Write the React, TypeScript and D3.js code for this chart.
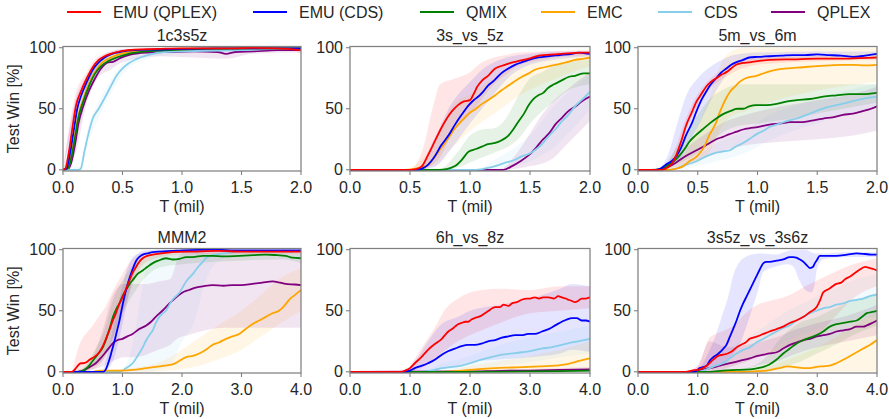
import React from "react";
import * as d3 from "d3";

type P = [number, number];
type B = [number, number, number];

const SERIES = ["EMU (QPLEX)", "EMU (CDS)", "QMIX", "EMC", "CDS", "QPLEX"];
const COLORS = ["#ff0000", "#0000ff", "#008000", "#ffa500", "#87ceeb", "#800080"];

const TITLES = ["1c3s5z", "3s_vs_5z", "5m_vs_6m", "MMM2", "6h_vs_8z", "3s5z_vs_3s6z"];
const X_MAX = [2, 2, 2, 4, 4, 4];
const X_TICKS_SHORT = [0, 0.5, 1.0, 1.5, 2.0];
const X_TICKS_LONG = [0, 1, 2, 3, 4];
const Y_TICKS = [0, 50, 100];

// ---------- 1c3s5z ----------
const a_red: P[] = [[0,0],[0.02,1],[0.05,15],[0.08,35],[0.11,53],[0.15,64],[0.2,75],[0.25,84],[0.3,90],[0.35,93],[0.4,95],[0.5,97.5],[0.6,98.5],[0.8,99],[1.0,99.5],[1.2,99.5],[1.4,99.5],[1.6,99.8],[1.8,99.5],[2.0,98]];
const a_blue: P[] = [[0,0],[0.03,1],[0.06,14],[0.09,32],[0.12,50],[0.15,60],[0.2,72],[0.25,82],[0.3,88],[0.35,92],[0.4,94.5],[0.5,97],[0.6,98],[0.8,98.5],[1.0,99],[1.3,99.5],[1.6,99.5],[2.0,99.5]];
const a_green: P[] = [[0,0],[0.04,1],[0.07,10],[0.1,26],[0.13,43],[0.17,56],[0.22,69],[0.27,79],[0.32,85],[0.38,89],[0.45,92],[0.55,95],[0.7,97],[0.9,98],[1.2,99],[1.6,99.5],[2.0,99.5]];
const a_orange: P[] = [[0,0],[0.04,1],[0.07,12],[0.1,28],[0.13,45],[0.17,58],[0.22,71],[0.27,80],[0.32,87],[0.38,91],[0.45,94],[0.55,96.5],[0.7,98],[0.9,99],[1.2,99.5],[1.6,99.5],[2.0,99.5]];
const a_cds: P[] = [[0,0],[0.13,0],[0.15,1],[0.18,15],[0.21,28],[0.25,42],[0.3,50],[0.34,57],[0.4,68],[0.45,77],[0.5,83],[0.55,87],[0.65,92],[0.75,95],[0.85,96.5],[1.0,97],[1.2,97.5],[1.5,98],[1.8,99],[2.0,99]];
const a_purple: P[] = [[0,0],[0.04,0.5],[0.07,6],[0.1,20],[0.13,38],[0.17,52],[0.22,65],[0.27,75],[0.32,83],[0.38,88],[0.42,88.5],[0.48,91.5],[0.55,94],[0.7,96],[0.9,96.5],[1.1,97],[1.3,96.5],[1.37,95],[1.45,96.5],[1.6,97],[1.8,98],[2.0,98]];
const a_redB: B[] = [[0,0,0],[0.1,45,60],[0.2,70,80],[0.3,87,93],[0.5,96,99],[1,99,100],[1.9,98,100],[2,95,100]];
const a_blueB: B[] = [[0,0,0],[0.1,38,55],[0.2,67,77],[0.3,85,91],[0.5,96,98.5],[1,98.5,99.8],[2,99,100]];
const a_greenB: B[] = [[0,0,0],[0.1,20,32],[0.2,60,70],[0.3,80,88],[0.5,92,96],[1,97.5,99.5],[2,99,100]];
const a_orangeB: B[] = [[0,0,0],[0.1,22,35],[0.2,62,72],[0.3,83,88],[0.5,94,97],[1,98.5,99.8],[2,99,100]];
const a_cdsB: B[] = [[0,0,0],[0.15,0,3],[0.2,18,30],[0.3,43,56],[0.4,62,73],[0.5,78,87],[0.65,89,94],[1,95,98.5],[2,98,100]];
const a_purpleB: B[] = [[0,0,0],[0.1,12,28],[0.2,55,70],[0.3,76,86],[0.4,82,92],[0.5,88,95],[0.8,93,98],[1.37,91,98],[1.6,95,99],[2,96,100]];

// ---------- 3s_vs_5z ----------
const b_red: P[] = [[0,0],[0.5,0],[0.55,0.5],[0.6,3],[0.65,12],[0.7,22],[0.76,34],[0.8,41],[0.85,48],[0.9,53],[0.95,56],[1.0,57],[1.03,62],[1.06,68],[1.1,73],[1.15,77],[1.21,83],[1.26,85],[1.32,87],[1.4,89],[1.49,91],[1.55,93],[1.62,94],[1.7,94.5],[1.76,95],[1.85,95.5],[1.93,96],[2.0,96]];
const b_blue: P[] = [[0,0],[0.55,0],[0.6,1],[0.65,4],[0.7,10],[0.76,20],[0.82,28],[0.875,37],[0.93,45],[0.99,53],[1.03,57],[1.07,60],[1.11,64],[1.15,69],[1.2,73],[1.26,79],[1.32,83],[1.375,86],[1.43,88],[1.49,90],[1.57,92],[1.65,93],[1.75,94],[1.85,95],[1.9,96],[1.95,95.5],[2.0,95]];
const b_green: P[] = [[0,0],[0.75,0],[0.8,0.5],[0.875,3],[0.93,8],[0.99,15],[1.05,17],[1.1,19],[1.15,21],[1.21,22],[1.26,24],[1.32,28],[1.36,33],[1.4,39],[1.45,46],[1.49,53],[1.53,58],[1.57,61],[1.61,63],[1.65,67],[1.7,70],[1.76,73],[1.82,76],[1.875,77],[1.95,79],[2.0,79]];
const b_orange: P[] = [[0,0],[0.45,0],[0.55,1],[0.6,2],[0.65,4],[0.7,10],[0.76,18],[0.82,26],[0.875,34],[0.93,40],[0.99,46],[1.05,50],[1.1,54],[1.15,57],[1.21,61],[1.26,65],[1.32,69],[1.38,73],[1.43,76],[1.49,79],[1.54,82],[1.62,84],[1.71,86],[1.8,88],[1.875,90],[1.95,91],[2.0,92]];
const b_cds: P[] = [[0,0],[1.05,0],[1.15,1.5],[1.21,3],[1.3,6],[1.37,8],[1.43,11],[1.49,13],[1.54,16],[1.6,21],[1.65,27],[1.71,33],[1.76,39],[1.82,45],[1.875,52],[1.93,57],[2.0,64]];
const b_purple: P[] = [[0,0],[1.28,0],[1.35,3],[1.42,7],[1.49,12],[1.55,18],[1.6,24],[1.66,30],[1.71,37],[1.77,43],[1.82,48],[1.88,52],[1.93,56],[2.0,60]];
const b_redB: B[] = [[0,0,0],[0.5,0,0.5],[0.6,0,15],[0.7,5,55],[0.75,10,70],[0.85,30,74],[1.0,45,80],[1.1,58,88],[1.2,70,92],[1.3,78,94],[1.4,85,96],[1.6,90,97],[2.0,94,98]];
const b_blueB: B[] = [[0,0,0],[0.55,0,0],[0.7,2,25],[0.85,18,55],[1.0,38,72],[1.1,50,82],[1.2,62,88],[1.35,78,93],[1.5,86,95],[1.7,90,97],[2.0,93,97]];
const b_greenB: B[] = [[0,0,0],[0.75,0,1],[0.9,2,15],[1.0,6,28],[1.1,10,33],[1.2,14,34],[1.3,18,42],[1.4,25,60],[1.5,38,75],[1.6,48,80],[1.7,56,85],[1.8,64,88],[2.0,70,90]];
const b_orangeB: B[] = [[0,0,0],[0.45,0,0.5],[0.7,3,22],[0.85,18,52],[1.0,32,62],[1.2,46,75],[1.4,60,86],[1.6,70,92],[1.8,78,95],[2.0,85,97]];
const b_cdsB: B[] = [[0,0,0],[1.05,0,0.5],[1.2,0,8],[1.4,4,20],[1.5,7,28],[1.6,12,40],[1.7,18,52],[1.8,28,62],[1.9,38,70],[2.0,50,78]];
const b_purpleB: B[] = [[0,0,0],[1.25,0,0.5],[1.4,1,15],[1.5,3,30],[1.6,5,45],[1.7,10,57],[1.8,20,65],[1.9,30,73],[2.0,40,80]];

// ---------- 5m_vs_6m ----------
const c_red: P[] = [[0,0],[0.2,0],[0.25,2],[0.29,6],[0.32,12],[0.36,23],[0.405,37],[0.45,47],[0.49,56],[0.53,62],[0.57,68],[0.61,72],[0.655,75],[0.7,78],[0.74,80],[0.78,83],[0.82,86],[0.88,87.5],[0.93,88],[1.0,89],[1.1,90],[1.3,90.5],[1.5,91],[1.7,91],[1.85,91.5],[2.0,92]];
const c_blue: P[] = [[0,0],[0.15,0],[0.19,1],[0.23,4],[0.28,7],[0.32,11],[0.36,18],[0.405,29],[0.45,38],[0.49,48],[0.53,57],[0.57,64],[0.61,70],[0.655,75],[0.7,80],[0.74,83],[0.78,86],[0.82,88],[0.88,90],[0.93,92],[1.0,92.5],[1.1,93],[1.2,93.5],[1.3,94],[1.4,94],[1.5,94.5],[1.6,94],[1.7,93.5],[1.8,92.5],[1.9,93.5],[2.0,95]];
const c_green: P[] = [[0,0],[0.15,0],[0.2,1],[0.24,3],[0.3,7],[0.35,12],[0.39,17],[0.43,23],[0.48,28],[0.54,33],[0.6,38],[0.655,42],[0.7,45],[0.77,48],[0.83,50],[0.88,50],[0.93,52],[0.99,53],[1.08,53],[1.16,54],[1.25,56],[1.33,57],[1.44,58],[1.55,60],[1.66,61],[1.77,62],[1.88,62],[2.0,63]];
const c_orange: P[] = [[0,0],[0.25,0],[0.32,1],[0.38,3],[0.43,7],[0.48,10],[0.52,14],[0.56,20],[0.6,29],[0.63,34],[0.655,39],[0.68,46],[0.71,53],[0.74,59],[0.77,64],[0.81,68],[0.85,72],[0.9,75],[0.99,77],[1.08,80],[1.16,82],[1.25,83],[1.38,84],[1.5,85],[1.6,85.5],[1.715,86],[1.8,86],[1.9,85.5],[2.0,86]];
const c_cds: P[] = [[0,0],[0.25,0],[0.32,1],[0.4,4],[0.49,7],[0.57,11],[0.655,14],[0.71,15],[0.77,16],[0.82,19],[0.88,22],[0.93,25],[0.99,29],[1.05,32],[1.1,35],[1.16,37],[1.25,40],[1.33,42],[1.41,45],[1.49,48],[1.57,51],[1.66,53],[1.75,55],[1.83,57],[1.92,59],[2.0,60]];
const c_purple: P[] = [[0,0],[0.18,0],[0.22,1],[0.265,3],[0.32,6],[0.38,10],[0.43,13],[0.49,16],[0.55,19],[0.6,22],[0.655,25],[0.71,27],[0.76,29],[0.82,31],[0.88,33],[0.93,34],[1.0,35],[1.1,37],[1.2,38],[1.27,39],[1.35,39],[1.44,40],[1.5,41],[1.55,42],[1.63,43],[1.715,45],[1.8,46],[1.88,48],[1.95,50],[2.0,52]];
const c_redB: B[] = [[0,0,0],[0.2,0,1],[0.3,7,15],[0.4,32,42],[0.5,52,62],[0.6,66,74],[0.7,74,82],[0.8,80,88],[1.0,86,92],[1.5,89,93],[2.0,90,94]];
const c_blueB: B[] = [[0,0,0],[0.15,0,0.5],[0.25,2,12],[0.3,4,28],[0.35,8,45],[0.4,18,60],[0.5,35,75],[0.6,55,84],[0.7,72,90],[0.8,84,94],[1.0,90,96],[1.5,92,97],[2.0,93,97]];
const c_greenB: B[] = [[0,0,0],[0.2,0,2],[0.3,3,15],[0.4,8,30],[0.5,14,45],[0.6,22,58],[0.7,30,65],[0.85,36,70],[1.0,38,70],[1.3,42,70],[1.6,48,70],[2.0,55,70]];
const c_orangeB: B[] = [[0,0,0],[0.3,0,3],[0.4,3,15],[0.5,6,35],[0.6,15,60],[0.7,35,88],[0.8,45,98],[0.9,48,100],[1.0,52,100],[1.5,65,100],[2.0,72,100]];
const c_cdsB: B[] = [[0,0,0],[0.3,0,3],[0.5,3,12],[0.7,8,24],[0.9,14,32],[1.1,24,45],[1.3,32,52],[1.5,38,58],[1.7,45,64],[2.0,50,70]];
const c_purpleB: B[] = [[0,0,0],[0.2,0,2],[0.3,2,10],[0.4,5,18],[0.5,8,25],[0.7,15,38],[0.9,20,45],[1.2,23,52],[1.5,25,57],[1.8,28,62],[2.0,32,68]];

// ---------- MMM2 ----------
const d_red: P[] = [[0,0],[0.15,0],[0.2,2],[0.25,5],[0.3,7],[0.34,7],[0.4,8],[0.45,10],[0.52,12],[0.61,16],[0.68,22],[0.73,28],[0.78,34],[0.83,41],[0.89,48],[0.94,55],[1.0,61],[1.06,68],[1.12,75],[1.17,81],[1.23,86],[1.28,90],[1.34,93],[1.42,95],[1.51,96],[1.65,97],[1.84,98],[2.2,98.5],[2.6,99],[3.0,98.5],[3.5,98.5],[4.0,98.5]];
const d_blue: P[] = [[0,0],[0.68,0],[0.72,2],[0.78,10],[0.82,17],[0.87,26],[0.91,34],[0.95,42],[0.99,52],[1.03,61],[1.07,69],[1.12,77],[1.17,84],[1.23,91],[1.28,94],[1.34,96],[1.42,97],[1.51,98],[1.65,98.5],[1.84,99],[2.0,99.5],[2.5,100],[3.0,99.5],[3.5,99.5],[4.0,99.5]];
const d_green: P[] = [[0,0],[0.25,0],[0.34,1],[0.42,4],[0.5,9],[0.58,14],[0.67,20],[0.72,26],[0.78,35],[0.84,45],[0.9,52],[0.95,56],[1.0,62],[1.06,67],[1.12,72],[1.17,75],[1.25,80],[1.34,83],[1.42,86],[1.51,89],[1.6,91],[1.73,93],[1.85,92],[1.96,92.5],[2.07,94],[2.18,94],[2.35,95],[2.51,95],[2.7,94.5],[2.96,95],[3.2,95.5],[3.41,96],[3.6,95.5],[3.74,95],[3.85,93.5],[4.0,93]];
const d_orange: P[] = [[0,0],[0.5,0],[0.61,1],[1.0,1],[1.17,1.5],[1.4,3],[1.56,4],[1.7,5],[1.84,6],[1.96,9],[2.07,12],[2.18,13],[2.29,15],[2.4,18],[2.51,22],[2.62,24],[2.74,27],[2.85,29],[2.96,31],[3.07,35],[3.18,39],[3.3,42],[3.41,45],[3.52,48],[3.63,50],[3.72,54],[3.8,59],[3.9,63],[4.0,67]];
const d_cds: P[] = [[0,0],[0.95,0],[1.06,3],[1.17,7],[1.28,15],[1.34,20],[1.4,26],[1.45,30],[1.51,34],[1.56,40],[1.62,45],[1.68,48],[1.73,50],[1.79,55],[1.84,59],[1.9,62],[1.96,65],[2.02,70],[2.07,74],[2.12,77],[2.18,80],[2.24,84],[2.29,87],[2.35,90],[2.4,93],[2.48,95],[2.57,96],[2.7,97],[2.85,98],[3.0,99],[3.5,99],[4.0,99]];
const d_purple: P[] = [[0,0],[0.25,0],[0.34,1],[0.45,4],[0.55,7],[0.61,10],[0.7,15],[0.78,20],[0.85,24],[0.92,26],[1.0,27],[1.08,29],[1.17,31],[1.28,35],[1.4,38],[1.48,41],[1.56,45],[1.67,50],[1.79,56],[1.9,61],[2.01,65],[2.12,67],[2.23,69],[2.35,70],[2.51,71],[2.7,70.5],[2.85,71],[3.0,71],[3.18,72],[3.35,73],[3.52,74],[3.65,73],[3.74,72],[3.9,71.5],[4.0,71]];
const d_redB: B[] = [[0,0,0],[0.15,0,1],[0.2,0,10],[0.3,0,25],[0.4,0,32],[0.5,2,38],[0.6,5,45],[0.7,12,52],[0.8,22,62],[0.9,35,72],[1.0,48,80],[1.1,62,88],[1.2,75,94],[1.3,85,97],[1.5,92,99],[2.0,96,100],[4.0,97,100]];
const d_blueB: B[] = [[0,0,0],[0.65,0,0.5],[0.75,2,15],[0.85,10,38],[0.95,28,60],[1.05,50,80],[1.15,72,92],[1.25,86,97],[1.4,94,99.5],[1.6,97,100],[4.0,98.5,100]];
const d_greenB: B[] = [[0,0,0],[0.3,0,2],[0.5,4,15],[0.7,12,35],[0.85,30,60],[1.0,48,75],[1.2,65,88],[1.4,78,94],[1.6,85,96],[2.0,88,97],[3.0,91,98],[3.7,92,98.5],[4.0,89,97]];
const d_orangeB: B[] = [[0,0,0],[0.6,0,1],[1.5,0,6],[1.8,1,12],[2.0,2,18],[2.3,5,28],[2.6,10,38],[3.0,18,50],[3.3,28,62],[3.6,38,75],[4.0,50,85]];
const d_cdsB: B[] = [[0,0,0],[0.95,0,0.5],[1.1,0,10],[1.2,0,30],[1.3,0,60],[1.4,0,85],[1.5,0,97],[1.6,2,99],[1.8,5,100],[2.0,25,100],[2.2,40,100],[2.4,75,100],[2.6,90,100],[3.0,97,100],[4.0,98,100]];
const d_purpleB: B[] = [[0,0,0],[0.3,0,2],[0.5,2,12],[0.7,5,40],[0.8,8,58],[0.9,10,68],[1.0,12,72],[1.2,12,72],[1.4,14,72],[1.6,18,74],[1.8,22,76],[1.95,28,95],[2.1,30,99],[2.4,34,100],[2.7,36,100],[3.0,36,100],[4.0,36,100]];

// ---------- 6h_vs_8z ----------
const e_red: P[] = [[0,0],[0.85,0],[0.92,1],[1.0,3],[1.08,7],[1.19,12],[1.3,18],[1.42,23],[1.53,27],[1.6,31],[1.64,33],[1.7,35],[1.75,37],[1.8,39],[1.86,40],[1.92,41],[1.97,41],[2.03,43],[2.08,44],[2.14,45],[2.19,46],[2.25,48],[2.31,50],[2.37,52],[2.42,53],[2.5,53],[2.56,55],[2.64,54],[2.7,56],[2.78,57],[2.86,59],[2.95,60],[3.0,60],[3.08,61],[3.15,60],[3.22,61],[3.31,61],[3.4,60],[3.47,62],[3.53,61],[3.6,60],[3.64,59],[3.7,58],[3.75,57],[3.8,58],[3.86,60],[3.93,60],[4.0,61]];
const e_blue: P[] = [[0,0],[0.9,0],[1.0,1],[1.08,3],[1.2,5],[1.3,7],[1.42,10],[1.53,14],[1.64,17],[1.75,19],[1.86,21],[1.97,22],[2.08,22],[2.19,23],[2.3,25],[2.42,26],[2.53,28],[2.64,29],[2.75,30],[2.86,30],[2.97,31],[3.08,31],[3.2,33],[3.31,35],[3.42,38],[3.53,41],[3.62,43],[3.7,44],[3.78,44],[3.86,42],[3.93,42],[4.0,41]];
const e_green: P[] = [[0,0],[2.0,0],[3.0,0.3],[3.5,0.6],[4.0,1]];
const e_orange: P[] = [[0,0],[1.5,0],[1.86,1],[2.1,2],[2.42,3],[2.7,3.5],[2.97,4],[3.2,4.5],[3.42,5],[3.6,6],[3.75,8],[3.9,10],[4.0,11]];
const e_cds: P[] = [[0,0],[1.2,0],[1.35,1],[1.53,3],[1.7,4],[1.86,5],[2.0,7],[2.19,10],[2.35,12],[2.53,14],[2.7,15],[2.86,16],[3.0,17],[3.19,19],[3.35,20],[3.53,22],[3.7,24],[3.8,25],[3.9,26],[4.0,27]];
const e_purple: P[] = [[0,0],[2.0,0.3],[2.5,0.8],[3.0,1],[3.5,1.5],[4.0,2]];
const e_redB: B[] = [[0,0,0],[0.9,0,0.5],[1.0,0,5],[1.2,3,20],[1.4,10,35],[1.6,18,52],[1.8,25,60],[2.0,30,65],[2.2,34,67],[2.5,40,68],[3.0,48,67],[3.5,50,70],[4.0,52,70]];
const e_blueB: B[] = [[0,0,0],[0.9,0,0.5],[1.1,0,10],[1.3,0,25],[1.5,2,38],[1.8,5,45],[2.0,8,50],[2.5,10,55],[3.0,12,60],[3.5,15,68],[3.7,18,72],[4.0,16,70]];
const e_greenB: B[] = [[0,0,0],[3,0,1],[4,0,2]];
const e_orangeB: B[] = [[0,0,0],[1.5,0,0.5],[2.0,0,5],[2.5,0,9],[3.0,0,13],[3.5,0,18],[4.0,0,25]];
const e_cdsB: B[] = [[0,0,0],[1.2,0,0.5],[1.5,0,6],[2.0,2,13],[2.5,5,22],[3.0,8,28],[3.5,12,33],[4.0,15,38]];
const e_purpleB: B[] = [[0,0,0],[2,0,1],[4,0,4]];

// ---------- 3s5z_vs_3s6z ----------
const f_red: P[] = [[0,0],[0.8,0],[0.9,1],[1.03,2],[1.15,5],[1.26,10],[1.34,13],[1.42,14],[1.5,15],[1.58,17],[1.65,20],[1.72,22],[1.8,24],[1.87,27],[1.93,28],[2.0,29],[2.1,31],[2.2,33],[2.32,35],[2.43,37],[2.54,40],[2.65,42],[2.77,45],[2.88,49],[2.99,53],[3.05,59],[3.1,65],[3.2,68],[3.32,72],[3.4,73],[3.47,76],[3.55,78],[3.63,81],[3.72,84],[3.8,86],[3.88,85],[3.95,84],[4.0,83]];
const f_blue: P[] = [[0,0],[0.95,0],[1.03,3],[1.1,4],[1.15,5],[1.2,9],[1.26,12],[1.32,14],[1.37,16],[1.43,19],[1.48,22],[1.54,29],[1.6,36],[1.65,42],[1.7,49],[1.76,56],[1.82,62],[1.87,67],[1.93,73],[1.98,78],[2.04,84],[2.1,89],[2.15,90],[2.2,90],[2.32,91],[2.43,92],[2.54,94],[2.6,94],[2.65,93.5],[2.71,92],[2.77,90],[2.83,87],[2.88,85],[2.93,86],[2.96,89],[3.0,92],[3.04,95],[3.15,95],[3.32,95],[3.5,96],[3.66,97],[3.8,96.5],[3.9,96],[4.0,96]];
const f_green: P[] = [[0,0],[1.2,0],[1.42,1],[1.65,1.5],[1.87,2],[2.0,3],[2.1,4],[2.2,6],[2.32,10],[2.43,15],[2.54,19],[2.65,23],[2.77,26],[2.88,28],[2.99,30],[3.1,33],[3.21,37],[3.32,39],[3.44,40],[3.55,41],[3.66,42],[3.75,45],[3.83,48],[3.92,49],[4.0,50]];
const f_orange: P[] = [[0,0],[1.8,0],[2.0,0.5],[2.15,1],[2.26,2],[2.37,3],[2.5,4.5],[2.6,4],[2.77,3],[2.88,3],[2.99,4],[3.1,4.5],[3.21,5],[3.32,7],[3.44,10],[3.55,13],[3.66,16],[3.77,19],[3.88,22],[4.0,26]];
const f_cds: P[] = [[0,0],[1.0,0],[1.2,3],[1.3,5],[1.42,7],[1.54,11],[1.65,15],[1.76,18],[1.87,20],[1.98,24],[2.1,27],[2.2,30],[2.32,33],[2.43,36],[2.54,38],[2.65,42],[2.77,45],[2.88,48],[2.99,50],[3.1,52],[3.21,53],[3.32,55],[3.44,56],[3.55,58],[3.66,59],[3.77,60],[3.88,62],[4.0,63]];
const f_purple: P[] = [[0,0],[0.8,0],[1.0,1],[1.2,3],[1.37,5],[1.54,7],[1.7,9],[1.87,11],[2.0,13],[2.1,14],[2.2,15],[2.32,16],[2.43,19],[2.54,22],[2.65,24],[2.77,26],[2.88,27],[2.99,29],[3.1,30],[3.21,31],[3.32,33],[3.44,34],[3.55,35],[3.66,37],[3.77,37],[3.83,38],[3.92,40],[4.0,42]];
const f_redB: B[] = [[0,0,0],[0.8,0,0.5],[1.0,0,5],[1.2,0,28],[1.4,2,33],[1.6,5,38],[1.8,8,48],[2.0,12,55],[2.2,15,58],[2.5,20,62],[2.8,25,70],[3.0,30,75],[3.3,45,82],[3.6,60,88],[4.0,70,93]];
const f_blueB: B[] = [[0,0,0],[0.95,0,0.5],[1.1,1,8],[1.2,2,18],[1.3,4,30],[1.4,6,45],[1.5,10,60],[1.6,15,80],[1.7,22,90],[1.8,35,94],[1.9,50,96],[2.0,65,97],[2.1,82,97],[2.3,86,96],[2.5,88,99],[2.6,86,100],[2.7,75,100],[2.8,67,100],[2.9,65,98],[2.95,70,97],[3.0,85,97],[3.1,92,97],[3.5,94,98],[4.0,94,98]];
const f_greenB: B[] = [[0,0,0],[1.2,0,0.5],[1.8,0,3],[2.1,0,10],[2.4,3,28],[2.7,8,40],[3.0,15,45],[3.3,22,52],[3.6,30,58],[4.0,38,65]];
const f_orangeB: B[] = [[0,0,0],[1.8,0,0.5],[2.2,0,5],[2.6,0,12],[3.0,0,20],[3.3,0,28],[3.6,0,38],[4.0,0,50]];
const f_cdsB: B[] = [[0,0,0],[1.0,0,0.5],[1.3,0,12],[1.6,5,22],[1.9,10,30],[2.2,18,40],[2.5,25,50],[2.8,32,57],[3.0,35,62],[3.3,40,68],[3.6,43,75],[4.0,45,80]];
const f_purpleB: B[] = [[0,0,0],[0.8,0,0.5],[1.0,0,5],[1.2,0,25],[1.5,0,20],[1.8,2,22],[2.0,5,24],[2.3,8,28],[2.6,14,34],[3.0,20,40],[3.5,25,46],[4.0,30,55]];

// order per panel: EMU (QPLEX), EMU (CDS), QMIX, EMC, CDS, QPLEX
const LINES: P[][][] = [
  [a_red, a_blue, a_green, a_orange, a_cds, a_purple],
  [b_red, b_blue, b_green, b_orange, b_cds, b_purple],
  [c_red, c_blue, c_green, c_orange, c_cds, c_purple],
  [d_red, d_blue, d_green, d_orange, d_cds, d_purple],
  [e_red, e_blue, e_green, e_orange, e_cds, e_purple],
  [f_red, f_blue, f_green, f_orange, f_cds, f_purple],
];
const BANDS: B[][][] = [
  [a_redB, a_blueB, a_greenB, a_orangeB, a_cdsB, a_purpleB],
  [b_redB, b_blueB, b_greenB, b_orangeB, b_cdsB, b_purpleB],
  [c_redB, c_blueB, c_greenB, c_orangeB, c_cdsB, c_purpleB],
  [d_redB, d_blueB, d_greenB, d_orangeB, d_cdsB, d_purpleB],
  [e_redB, e_blueB, e_greenB, e_orangeB, e_cdsB, e_purpleB],
  [f_redB, f_blueB, f_greenB, f_orangeB, f_cdsB, f_purpleB],
];

const W = 889;
const H = 419;
const FONT = "'Liberation Sans', Arial, Helvetica, sans-serif";
const TXT = "#262626";
const FRAME = "#808080";

const COL_X: [number, number][] = [[63, 301], [350, 590], [638, 877]];
const ROW_Y: [number, number][] = [[46.5, 171], [248.5, 373]];

function Panel({ idx }: { idx: number }) {
  const col = idx % 3;
  const row = Math.floor(idx / 3);
  const [x0, x1] = COL_X[col];
  const [top, bottom] = ROW_Y[row];
  const xMax = X_MAX[idx];
  const x = d3.scaleLinear().domain([0, xMax]).range([x0, x1]);
  const y = d3.scaleLinear().domain([-1, 101]).range([bottom, top]);
  const ticks = xMax === 2 ? X_TICKS_SHORT : X_TICKS_LONG;
  const line = d3.line<P>().x((d) => x(d[0])).y((d) => y(d[1])).curve(d3.curveMonotoneX);
  const area = d3
    .area<B>()
    .x((d) => x(d[0]))
    .y0((d) => y(d[1]))
    .y1((d) => y(d[2]))
    .curve(d3.curveMonotoneX);
  const clipId = `clip${idx}`;
  const order = [5, 4, 3, 2, 1, 0];
  return (
    <g>
      <defs>
        <clipPath id={clipId}>
          <rect x={x0} y={top} width={x1 - x0} height={bottom - top} />
        </clipPath>
      </defs>
      <g clipPath={`url(#${clipId})`}>
        {BANDS[idx].map((b, i) => (
          <path key={"b" + i} d={area(b) || ""} fill={COLORS[i]} fillOpacity={0.1} stroke="none" />
        ))}
        {order.map((i) => (
          <path
            key={"l" + i}
            d={line(LINES[idx][i]) || ""}
            fill="none"
            stroke={COLORS[i]}
            strokeWidth={1.8}
            strokeLinejoin="round"
          />
        ))}
      </g>
      <rect x={x0} y={top} width={x1 - x0} height={bottom - top} fill="none" stroke={FRAME} strokeWidth={1.25} />
      {Y_TICKS.map((t) => (
        <g key={"y" + t}>
          <line x1={x0 - 4} x2={x0} y1={y(t)} y2={y(t)} stroke={FRAME} strokeWidth={1.1} />
          <text x={x0 - 7} y={y(t) + 5.5} textAnchor="end" fontSize={16} fill={TXT} fontFamily={FONT}>
            {t}
          </text>
        </g>
      ))}
      {ticks.map((t) => (
        <g key={"x" + t}>
          <line x1={x(t)} x2={x(t)} y1={bottom} y2={bottom + 4} stroke={FRAME} strokeWidth={1.1} />
          <text x={x(t)} y={bottom + 22} textAnchor="middle" fontSize={16} fill={TXT} fontFamily={FONT}>
            {t.toFixed(1)}
          </text>
        </g>
      ))}
      <text x={(x0 + x1) / 2} y={bottom + 41} textAnchor="middle" fontSize={16} fill={TXT} fontFamily={FONT}>
        T (mil)
      </text>
      <text x={(x0 + x1) / 2} y={top - 6} textAnchor="middle" fontSize={16} fill={TXT} fontFamily={FONT}>
        {TITLES[idx]}
      </text>
      {col === 0 && (
        <text
          transform={`translate(${19},${(top + bottom) / 2}) rotate(-90)`}
          textAnchor="middle"
          fontSize={16}
          fill={TXT}
          fontFamily={FONT}
        >
          Test Win [%]
        </text>
      )}
    </g>
  );
}

const LEGEND_X = [67, 253, 420, 541, 658, 771];

export default function App() {
  return (
    <svg
      width={W}
      height={H}
      viewBox={`0 0 ${W} ${H}`}
      style={{ position: "absolute", left: 0, top: 0, background: "#fff" }}
    >
      <rect x={0} y={0} width={W} height={H} fill="#fff" />
      {SERIES.map((s, i) => (
        <g key={s}>
          <line x1={LEGEND_X[i]} x2={LEGEND_X[i] + 34} y1={12} y2={12} stroke={COLORS[i]} strokeWidth={2} />
          <text x={LEGEND_X[i] + 46} y={18} fontSize={16} fill={TXT} fontFamily={FONT}>
            {s}
          </text>
        </g>
      ))}
      {[0, 1, 2, 3, 4, 5].map((i) => (
        <Panel key={i} idx={i} />
      ))}
    </svg>
  );
}
